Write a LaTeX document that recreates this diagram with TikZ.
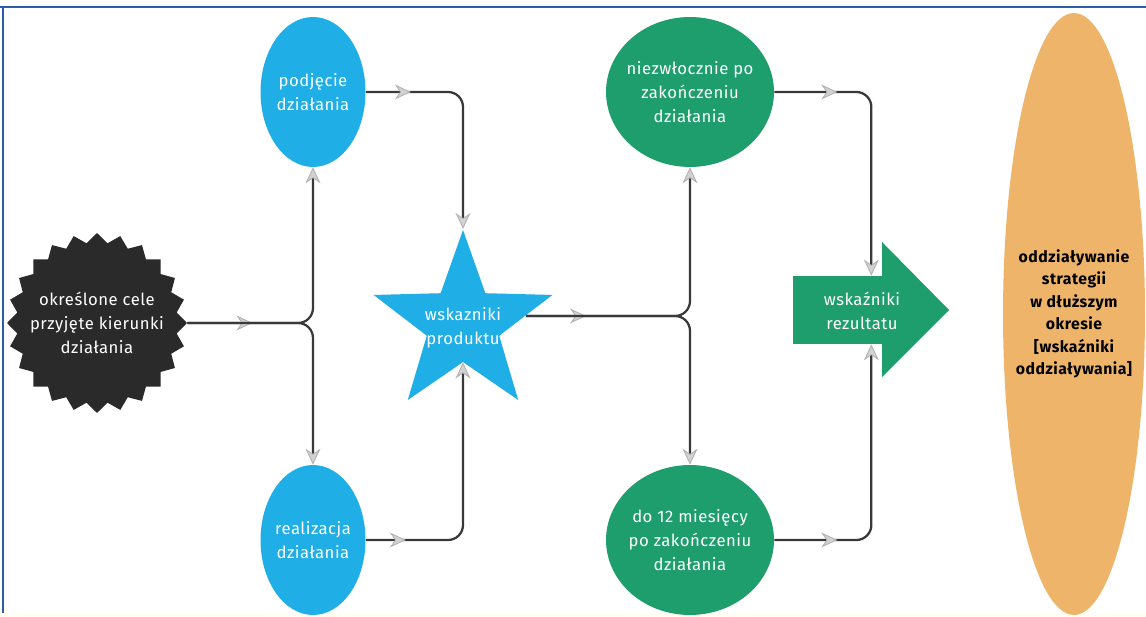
\documentclass[tikz,border=0pt]{standalone}
\usepackage{fontspec}
\setmainfont{Fira Sans}[LetterSpace=3]
\usetikzlibrary{shapes.geometric, arrows.meta, decorations.markings}

\definecolor{skyblue}{HTML}{1FAEE6}
\definecolor{leafgreen}{HTML}{1E9E6C}
\definecolor{sand}{HTML}{EDB46A}
\definecolor{coal}{HTML}{2A2A2A}
\definecolor{framebl}{HTML}{2A5CA8}

\tikzset{
  flowtip/.tip={Stealth[length=0.32cm, width=0.3cm, color=gray!60, fill=gray!35, line width=0.5pt]},
  conn/.style={draw=gray!45!black, line width=0.045cm, rounded corners=0.3cm, -flowtip},
  midtip/.style={postaction={decorate},
    decoration={markings, mark=at position #1 with {\arrow{flowtip}}}},
  blueblob/.style={ellipse, fill=skyblue, inner sep=0pt, minimum width=2.1cm, minimum height=3cm},
  greenblob/.style={ellipse, fill=leafgreen, inner sep=0pt, minimum width=3.36cm, minimum height=3cm},
  txt/.style={text=white, align=center, font=\fontsize{9.5}{13.5}\selectfont}
}

\begin{document}
\begin{tikzpicture}[x=0.02cm, y=-0.02cm]

  % Page and frame
  \useasboundingbox (0,0) rectangle (1146,617);
  \fill[white] (0,0) rectangle (1146,617);
  \fill[yellow!6] (0,613) rectangle (1146,617);
  \draw[framebl, line width=0.05cm] (0,7) -- (1146,7);
  \draw[framebl, line width=0.05cm] (3,7) -- (3,613);

  % Starting point
  \node[star, star points=24, star point ratio=1.12, minimum size=3.6cm, inner sep=0pt, fill=coal] (burst) at (97,323) {};
  \node[txt] (bursttxt) at (burst) {określone cele\\przyjęte kierunki\\działania};

  % Actions (blue)
  \node[blueblob] (podj) at (313,92) {};
  \node[txt] (podjtxt) at (podj) {podjęcie\\działania};
  \node[blueblob] (real) at (313,540) {};
  \node[txt] (realtxt) at (real) {realizacja\\działania};

  % Output star
  \node[star, star points=5, star point ratio=2.47, minimum size=3.76cm, inner sep=0pt, fill=skyblue] (prod) at (463,324) {};
  \node[txt] (prodtxt) at (463,328) {wskazniki\\produktu};

  % Timing (green)
  \node[greenblob] (niez) at (690,92) {};
  \node[txt] (nieztxt) at (niez) {niezwłocznie po\\zakończeniu\\działania};
  \node[greenblob] (dodw) at (690,540) {};
  \node[txt] (dodwtxt) at (dodw) {do 12 miesięcy\\po zakończeniu\\działania};

  % Result arrow
  \node[fill=leafgreen, minimum width=1.78cm, minimum height=1.36cm, inner sep=0pt] (rez) at (837.5,310) {};
  \fill[leafgreen] (882,242) -- (949,310) -- (882,377) -- cycle;
  \node[txt] (reztxt) at (862,311) {wskaźniki\\rezultatu};

  % Long-term impact
  \node[ellipse, fill=sand, inner sep=0pt, minimum width=2.84cm, minimum height=12.04cm] (odd) at (1074,314) {};
  \node[align=center, font=\fontsize{9}{12.8}\selectfont\bfseries] (oddtxt) at (1074,314)
    {oddziaływanie\\strategii\\w dłuższym\\okresie\\{[}wskaźniki\\oddziaływania]};

  % Connectors
  \draw[conn, midtip=1.3cm] (burst.east) -| (podj.south);
  \draw[conn] (burst.east) -| (real.north);
  \draw[conn, midtip=0.9cm] (podj.east) -| (prod.north);
  \draw[conn, midtip=0.8cm] (real.east) -| (prod.south);
  \draw[conn, midtip=1.2cm] ([yshift=0.16cm, xshift=0.22cm]prod.east) -| (niez.south);
  \draw[conn] ([yshift=0.16cm, xshift=0.22cm]prod.east) -| (dodw.north);
  \draw[conn, midtip=1.26cm] (niez.east) -| ([xshift=-0.22cm]rez.north east);
  \draw[conn, midtip=1.26cm] (dodw.east) -| ([xshift=-0.22cm]rez.south east);
\end{tikzpicture}
\end{document}
